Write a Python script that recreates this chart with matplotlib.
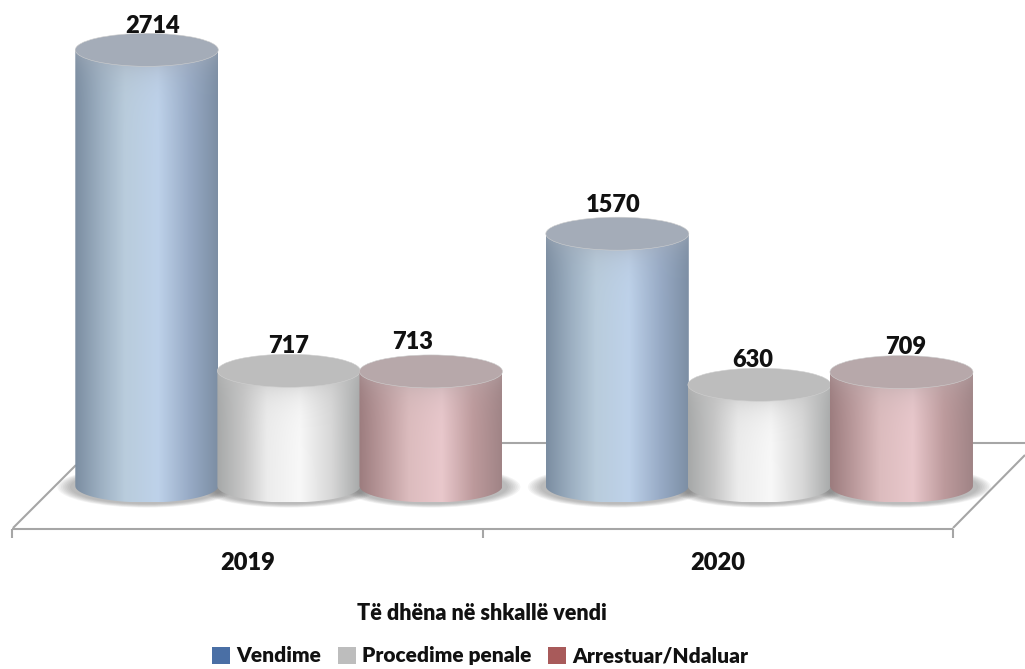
import numpy as np
import matplotlib.pyplot as plt
from matplotlib.colors import to_rgb
from matplotlib.patches import Ellipse, PathPatch, Patch
from matplotlib.path import Path

plt.rcParams['font.family'] = ['Lato', 'DejaVu Sans']
plt.rcParams['font.weight'] = 'heavy'

# data
years = ['2019', '2020']
series = ['Vendime', 'Procedime penale', 'Arrestuar/Ndaluar']
vendime = [2714, 1570]
procedime = [717, 630]
arrestuar = [713, 709]

# looks of each series: shaded side stops, top ellipse, legend box
stops = [0, 0.18, 0.35, 0.58, 0.8, 1]
side_colors = [
    ['#7b8da1', '#9db0c2', '#b9ccdc', '#bed2ea', '#98abc6', '#7c8ea4'],
    ['#a6a8a8', '#c6c6c6', '#ececec', '#f8f8f8', '#d8d8d8', '#a8aaaa'],
    ['#9c7c7e', '#bd9c9e', '#dcbcbe', '#e9c8cc', '#bd9a9c', '#a08486'],
]
top_colors = ['#a4acb8', '#bdbdbd', '#b7a8aa']
legend_colors = ['#4a6fa5', '#bdbdbd', '#a85a5a']

# offsets of the value labels from the top of the cylinder, in points
label_dx = [[4, 0, -13], [-3, -5, 3]]
label_dy = [[9, 10, 13], [13, 10, 10]]

# scales
px_per_unit = 0.1607
px_per_cat = 470.5
base_px = 486
left_px = 12
fig_w, fig_h = 1025, 669


def X(px):
    return (px - left_px) / px_per_cat


def Y(px):
    return (base_px - px) / px_per_unit


fig = plt.figure(figsize=(fig_w / 100, fig_h / 100), dpi=100)
ax = fig.add_axes([0, 0, 1, 1])
ax.axis('off')

bar_w = 143 / px_per_cat
ell_h = 33 / px_per_unit
offsets = [-0.2135, 0.0885, 0.3905]


def floor_line(xs, ys):
    ax.plot([X(v) for v in xs], [Y(v) for v in ys], color='#a6a6a6', lw=1.5, zorder=1,
            solid_capstyle='butt')


# floor
floor_line([12, 953], [529, 529])
floor_line([13, 76], [528, 465])
floor_line([953, 1025], [528, 455])
floor_line([76, 1025], [443, 443])
for t in [12, 483, 953]:
    floor_line([t, t], [529, 538])


def cylinder(x, value, colors, top, z):
    w = bar_w
    # soft shadow under it
    for k in range(8):
        ax.add_patch(Ellipse((x, Y(487)), w * (1.25 - k * 0.025), ell_h * (1.25 - k * 0.03),
                             facecolor='#555555', alpha=0.06, lw=0, zorder=2))

    # side: horizontal gradient, a bit darker just under the rim
    u = np.linspace(-1, 1, 200)
    vals = np.linspace(-ell_h / 2, value, 300)
    uu, vv = np.meshgrid(u, vals)
    frac = (u + 1) / 2
    rgb = np.array([to_rgb(c) for c in colors])
    line = np.stack([np.interp(frac, stops, rgb[:, i]) for i in range(3)], axis=1)
    img = np.repeat(line[None, :, :], len(vals), axis=0)
    front = value - ell_h / 2 * np.sqrt(1 - uu ** 2)
    dist = np.clip(front - vv, 0, None) * px_per_unit
    shade = 0.45 * np.exp(-dist / 14)[:, :, None]
    img = img * (1 - shade) + np.array(to_rgb(top)) * shade

    t = np.linspace(np.pi, 2 * np.pi, 40)
    xs = np.concatenate([x + w / 2 * np.cos(t), x + w / 2 * np.cos(t[::-1])])
    ys = np.concatenate([ell_h / 2 * np.sin(t), value - ell_h / 2 * np.sin(t[::-1])])
    clip = PathPatch(Path(np.column_stack([xs, ys])), facecolor='none', edgecolor='none',
                     transform=ax.transData)
    ax.add_patch(clip)
    im = ax.imshow(img, origin='lower', aspect='auto', interpolation='bilinear', zorder=z,
                   extent=[x - w / 2, x + w / 2, -ell_h / 2, value])
    im.set_clip_path(clip)

    ax.add_patch(Ellipse((x, value), w, ell_h, facecolor=top, edgecolor='#cfcfcf', lw=0.4,
                         zorder=z + 0.1))


all_values = [vendime, procedime, arrestuar]
for g in range(len(years)):
    for s in range(len(series)):
        v = all_values[s][g]
        x = g + 0.5 + offsets[s]
        cylinder(x, v, side_colors[s], top_colors[s], 3 + s + g * 3)
        ax.annotate(str(v), (x, v), xytext=(label_dx[g][s], label_dy[g][s]),
                    textcoords='offset points', ha='center', va='bottom', fontsize=17,
                    color='#111111', zorder=20)

ax.set_xlim(X(0), X(fig_w))
ax.set_ylim(Y(fig_h), Y(0))

# year labels
for g, year in enumerate(years):
    ax.text(g + 0.5, Y(563), year, ha='center', va='center', fontsize=17, color='#111111')

ax.text(X(482), Y(614), 'Të dhëna në shkallë vendi', ha='center', va='center', fontsize=15.5,
        color='#111111')

handles = [Patch(facecolor=c, edgecolor='none') for c in legend_colors]
fig.legend(handles, series, loc='center', bbox_to_anchor=(0.4685, 0.0195), ncol=3, frameon=False,
           fontsize=15, handlelength=0.85, handleheight=0.85, handletextpad=0.3,
           columnspacing=0.8, labelcolor='#111111')

fig.savefig('out.png', dpi=100)
